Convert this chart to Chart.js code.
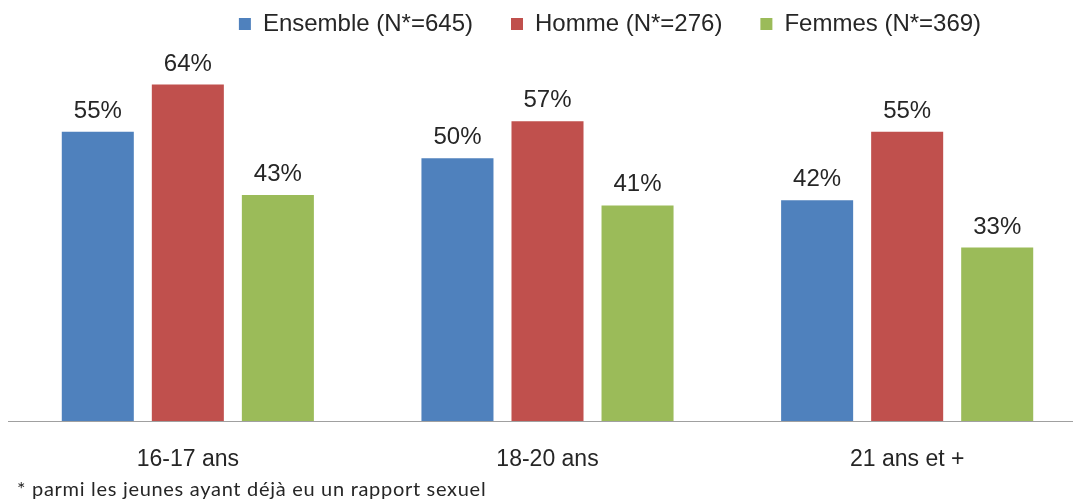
<!DOCTYPE html>
<html>
<head>
<meta charset="utf-8">
<script src="https://cdn.jsdelivr.net/npm/chart.js@4"></script>
<style>
  html, body { margin: 0; padding: 0; background: #fff; overflow: hidden; }
</style>
</head>
<body>
<canvas id="chart" width="1212" height="499"></canvas>
<script>
// Data
var categories = ['16-17 ans', '18-20 ans', '21 ans et +'];
var seriesNames = ['Ensemble (N*=645)', 'Homme (N*=276)', 'Femmes (N*=369)'];
var ensembleValues = [55, 50, 42];
var hommeValues = [64, 57, 55];
var femmesValues = [43, 41, 33];
var footnote = '* parmi les jeunes ayant déjà eu un rapport sexuel';

// Colors
var blue = '#4F81BD';
var red = '#C0504D';
var green = '#9BBB59';
var textColor = '#262626';
var axisGray = '#A0A0A0';
var sans = '"Liberation Sans", Arial, sans-serif';

// percentage labels above each bar
var valueLabels = {
    id: 'valueLabels',
    afterDatasetsDraw: function (chart) {
        var ctx = chart.ctx;
        ctx.save();
        ctx.font = '24px ' + sans;
        ctx.fillStyle = textColor;
        ctx.textAlign = 'center';
        ctx.textBaseline = 'alphabetic';
        chart.data.datasets.forEach(function (ds, i) {
            chart.getDatasetMeta(i).data.forEach(function (bar, j) {
                ctx.fillText(ds.data[j] + '%', bar.x, bar.y - 14);
            });
        });
        ctx.restore();
    }
};

// footnote under the axis labels
var footnotePlugin = {
    id: 'footnote',
    afterDraw: function (chart) {
        var ctx = chart.ctx;
        ctx.save();
        ctx.font = '20px Lato, "Open Sans", sans-serif';
        ctx.letterSpacing = '0.7px';
        ctx.fillStyle = textColor;
        ctx.textAlign = 'left';
        ctx.textBaseline = 'alphabetic';
        ctx.fillText(footnote, 17, 496);
        ctx.restore();
    }
};

new Chart(document.getElementById('chart').getContext('2d'), {
    type: 'bar',
    data: {
        labels: categories,
        datasets: [
            { label: seriesNames[0], data: ensembleValues, backgroundColor: blue },
            { label: seriesNames[1], data: hommeValues, backgroundColor: red },
            { label: seriesNames[2], data: femmesValues, backgroundColor: green }
        ]
    },
    options: {
        responsive: false,
        animation: false,
        categoryPercentage: 0.751,
        barPercentage: 0.8,
        layout: { padding: { left: 8, right: 0, top: -26, bottom: 0 } },
        plugins: {
            tooltip: { enabled: false },
            legend: {
                position: 'top',
                labels: {
                    boxWidth: 12,
                    boxHeight: 12,
                    padding: 38,
                    color: textColor,
                    font: { family: sans, size: 24 }
                }
            }
        },
        scales: {
            x: {
                offset: true,
                grid: { display: false, drawTicks: false },
                border: { display: true, color: axisGray, width: 1 },
                ticks: { color: textColor, padding: 25, font: { family: sans, size: 23 } },
                afterFit: function (scale) { scale.height = 78; }
            },
            y: {
                position: 'right',
                min: 0,
                max: 70,
                grid: { display: false },
                border: { display: false },
                ticks: { display: false },
                afterFit: function (scale) { scale.width = 125; }
            },
            gap: {
                type: 'category',
                position: 'top',
                grid: { display: false },
                border: { display: false },
                ticks: { display: false },
                afterFit: function (scale) { scale.height = 7; }
            }
        }
    },
    plugins: [valueLabels, footnotePlugin]
});
</script>
</body>
</html>
